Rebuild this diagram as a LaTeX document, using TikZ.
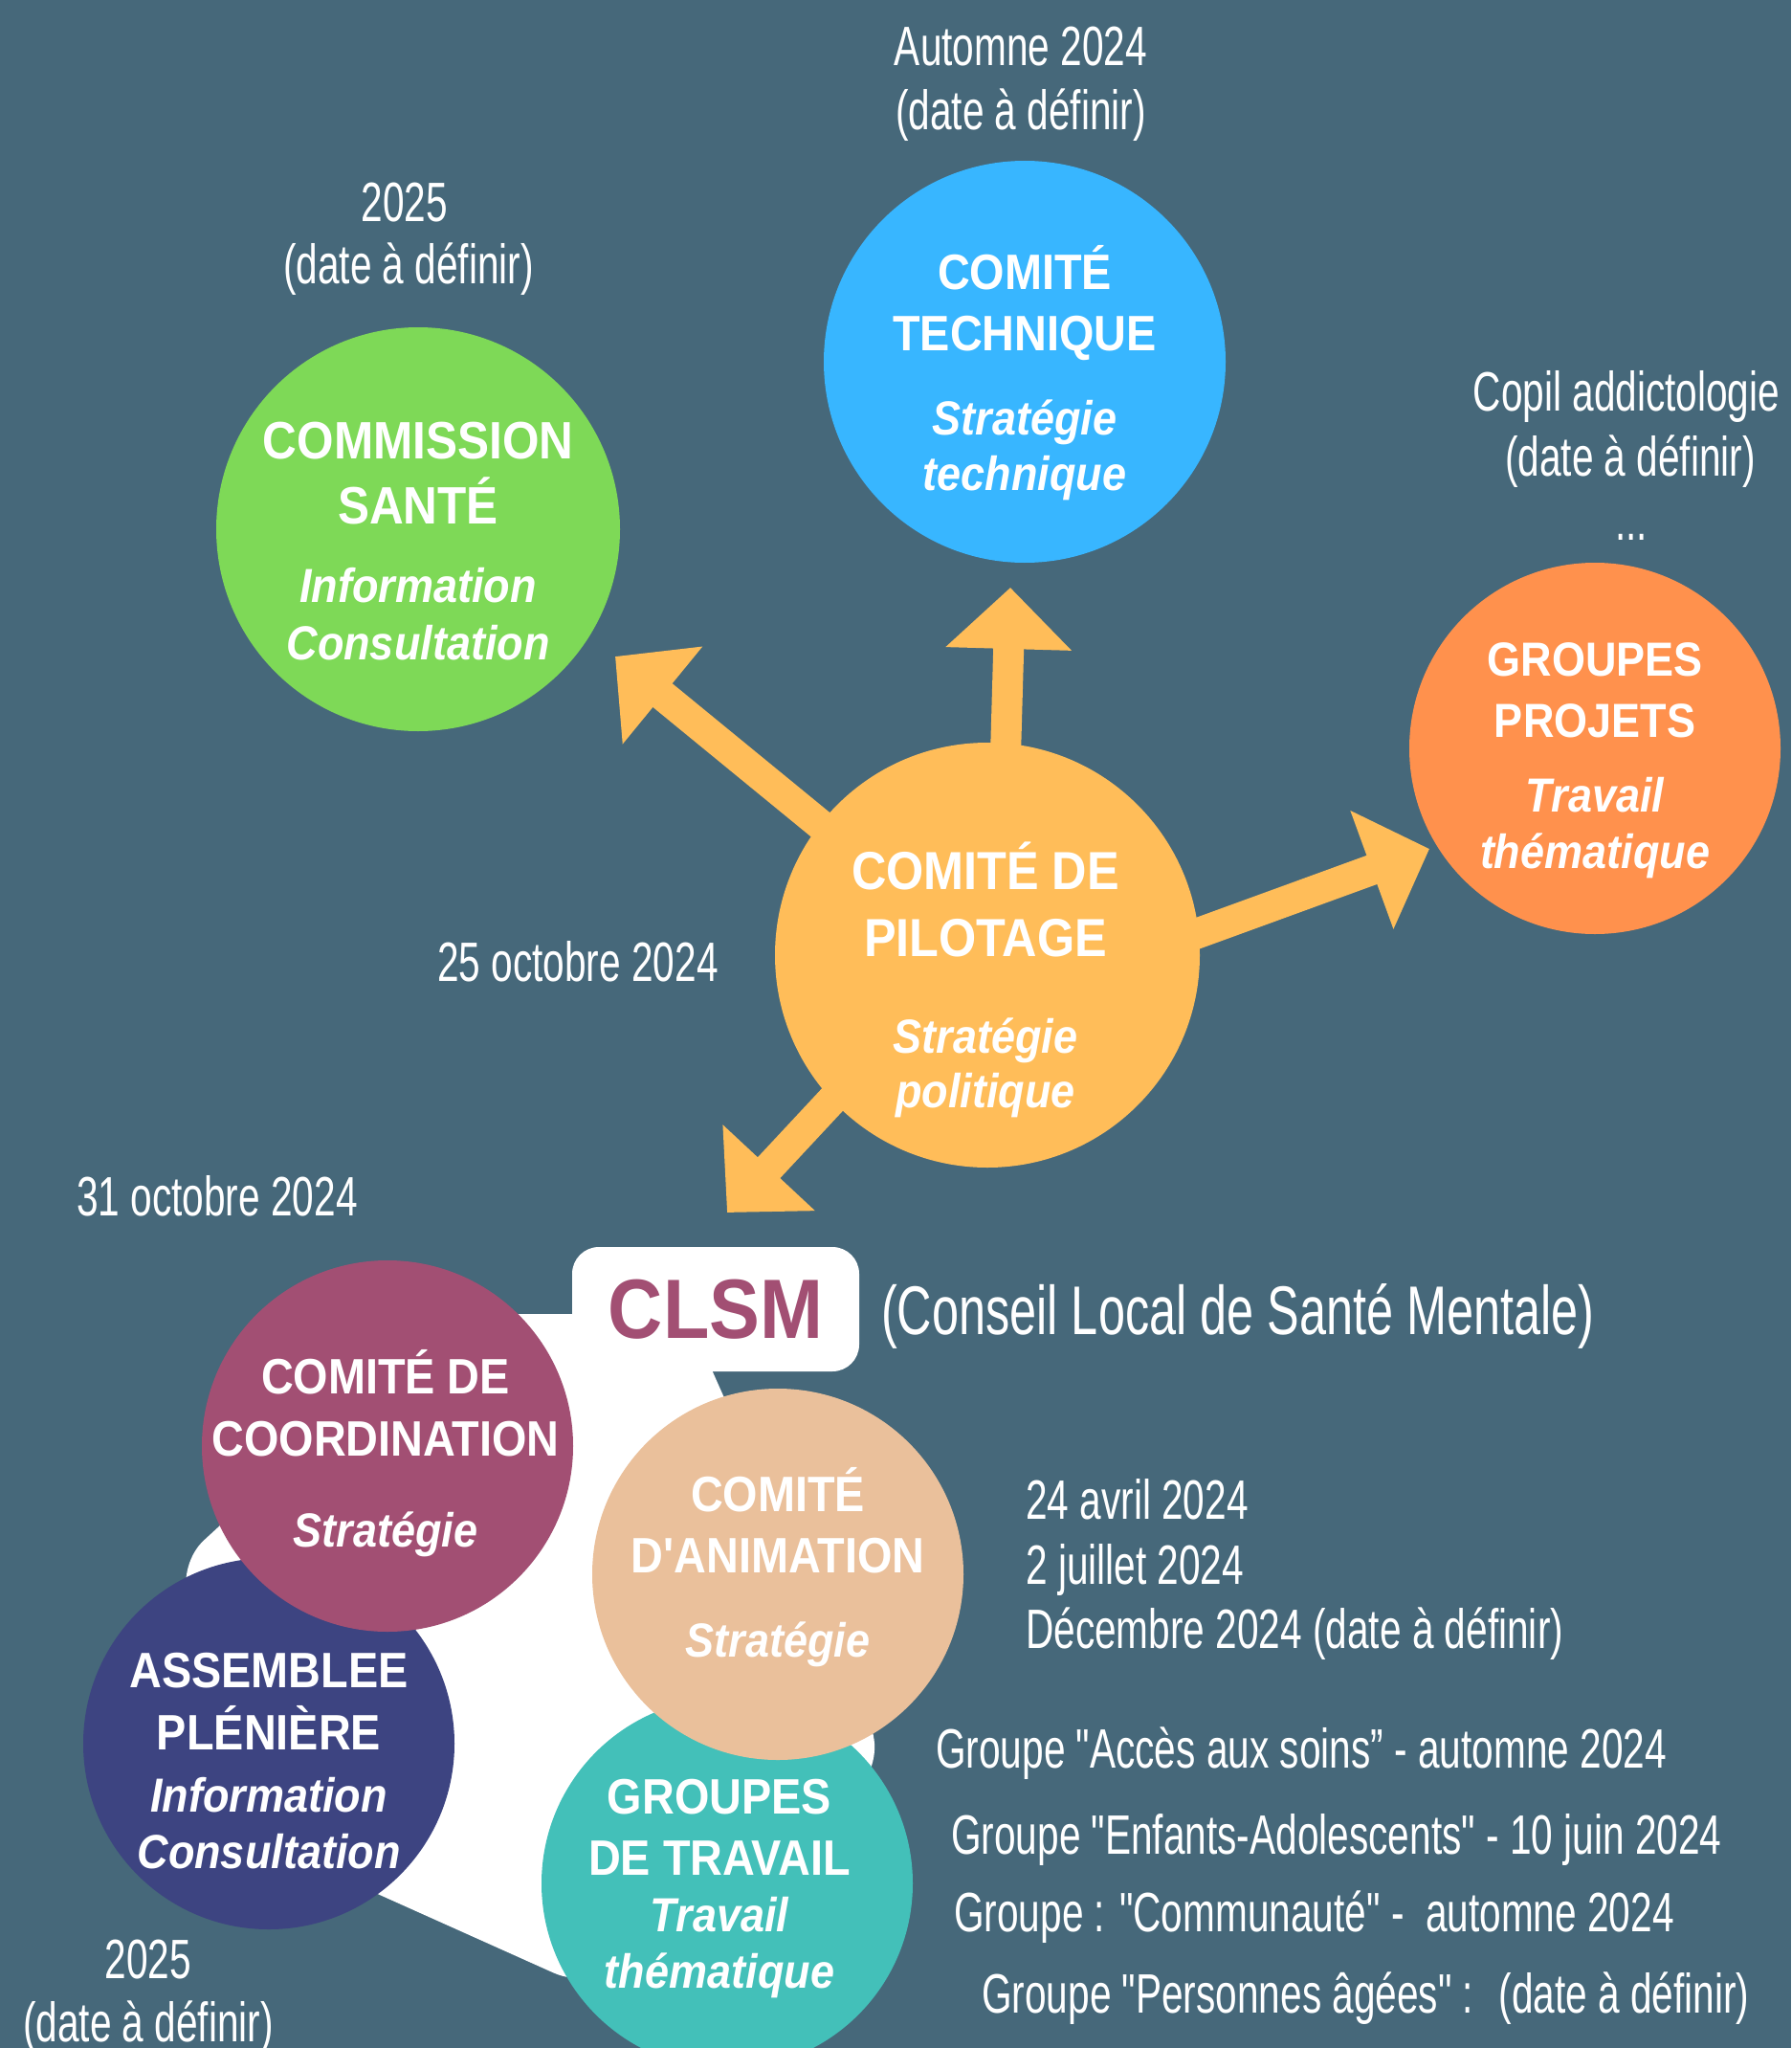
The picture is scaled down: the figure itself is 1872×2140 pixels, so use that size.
\documentclass[tikz,border=0pt]{standalone}
\usepackage{fontspec}
\newfontfamily\circfont{Liberation Sans}[FakeStretch=0.9, Ligatures=TeXOff]
\newfontfamily\datefont{Liberation Sans}[FakeStretch=0.70, Ligatures=TeXOff]
\usetikzlibrary{arrows.meta, backgrounds}

\definecolor{bgC}{HTML}{46687A}
\definecolor{santeC}{HTML}{7ED957}
\definecolor{techC}{HTML}{38B6FF}
\definecolor{projC}{HTML}{FF914D}
\definecolor{pilotC}{HTML}{FFBD59}
\definecolor{coordC}{HTML}{A24F73}
\definecolor{assembC}{HTML}{3D4481}
\definecolor{animC}{HTML}{EAC09B}
\definecolor{travC}{HTML}{43C0B9}

\tikzset{disc/.style={circle, inner sep=0pt, minimum size=388pt}}
\tikzset{capsTxt/.style={text=white, align=center, inner sep=0pt, font=\circfont\bfseries\fontsize{#1}{64}\selectfont}, capsTxt/.default=52}
\tikzset{dateTxt/.style={text=white, inner sep=0pt, font=\datefont\fontsize{58}{67}\selectfont}}
\tikzset{bigArrow/.style={draw=pilotC, line width=32pt, -{Triangle[length=64pt,width=128pt]}}}
\newcommand{\ital}[1]{{\itshape\fontsize{50}{60}\selectfont #1}}

\begin{document}
\begin{tikzpicture}[x=1pt, y=-1pt]
\useasboundingbox (0,0) rectangle (1872,2140);
\clip (0,0) rectangle (1872,2140);
\begin{scope}[on background layer]
\fill[bgC] (0,0) rectangle (1872,2140);
\end{scope}

% white area behind the CLSM
\fill[white, rounded corners=45pt] (470,1373) -- (718,1373) -- (928,1845) -- (620,2080) -- (330,1950) -- (180,1640) -- cycle;

\node[disc, fill=santeC, minimum size=422pt] (sante) at (437,553) {};
\node[disc, fill=techC, minimum size=420pt] (tech) at (1071,378) {};
\node[disc, fill=projC] (proj) at (1667,782) {};
\node[disc, fill=pilotC, minimum size=444pt] (pilot) at (1032,998) {};
\node[disc, fill=assembC] (assemb) at (281,1822) {};
\node[disc, fill=coordC] (coord) at (405,1511) {};
\node[disc, fill=travC] (trav) at (760,1968) {};
\node[disc, fill=animC] (anim) at (813,1645) {};

\node[capsTxt=55] (santeTxt) at (437,566) {COMMISSION\\[4pt]SANTÉ\\[18pt]\ital{Information}\\[-4pt]\ital{Consultation}};
\node[capsTxt] (techTxt) at (1071,390) {COMITÉ\\TECHNIQUE\\[24pt]\ital{Stratégie}\\[-6pt]\ital{technique}};
\node[capsTxt=50] (projTxt) at (1667,795) {GROUPES\\PROJETS\\[14pt]\ital{Travail}\\[-5pt]\ital{thématique}};
\node[capsTxt=56] (pilotTxt) at (1030,1024) {COMITÉ DE\\[6pt]PILOTAGE\\[37pt]\ital{Stratégie}\\[-7pt]\ital{politique}};
\node[capsTxt] (coordTxt) at (403,1519) {COMITÉ DE\\[1pt]COORDINATION\\[31pt]\ital{Stratégie}};
\node[capsTxt] (assembTxt) at (281,1840) {ASSEMBLEE\\[1pt]PLÉNIÈRE\\[1pt]\ital{Information}\\[-5pt]\ital{Consultation}};
\node[capsTxt] (animTxt) at (813,1638) {COMITÉ\\D'ANIMATION\\[24pt]\ital{Stratégie}};
\node[capsTxt] (travTxt) at (752,1974) {GROUPES\\DE TRAVAIL\\[-5pt]\ital{Travail}\\[-5pt]\ital{thématique}};

\node[fill=white, rounded corners=28pt, minimum width=300pt, minimum height=130pt, inner sep=0pt, text=coordC, font=\circfont\bfseries\fontsize{88}{90}\selectfont] (clsm) at (748,1368) {CLSM};

\coordinate (tipS) at (643,686);
\coordinate (tipT) at (1056,614);
\coordinate (tipP) at (1494,887);
\coordinate (tipC) at (760,1267);
\begin{scope}[on background layer]
\draw[bigArrow, shorten <=-20pt] (pilot.142) -- (tipS);
\draw[bigArrow, shorten <=-20pt] (pilot.85) -- (tipT);
\draw[bigArrow, shorten <=-20pt] (pilot.6) -- (tipP);
\draw[bigArrow, shorten <=-20pt] (pilot.223) -- (tipC);
\end{scope}

% dates
\node[dateTxt, anchor=base] (techDate) at (1067,69) {Automne 2024};
\node[dateTxt, anchor=base] (techDef) at (1067,136) {(date à définir)};
\node[dateTxt, anchor=base] (santeDate) at (423,232) {2025};
\node[dateTxt, anchor=base] (santeDef) at (427,297) {(date à définir)};
\node[dateTxt, anchor=base] (projDate) at (1700,429) {Copil addictologie};
\node[dateTxt, anchor=base] (projDef) at (1704,497) {(date à définir)};
\node[dateTxt, anchor=base] (projMore) at (1705,564) {...};
\node[dateTxt, anchor=base] (pilotDate) at (604,1025) {25 octobre 2024};
\node[dateTxt, anchor=base] (coordDate) at (227,1270) {31 octobre 2024};
\node[dateTxt, anchor=base west, font=\datefont\fontsize{72}{80}\selectfont] (clsmName) at (921,1394) {(Conseil Local de Santé Mentale)};
\node[dateTxt, anchor=base west] (animA) at (1072,1587) {24 avril 2024};
\node[dateTxt, anchor=base west] (animB) at (1072,1655) {2 juillet 2024};
\node[dateTxt, anchor=base west] (animC) at (1072,1722) {Décembre 2024 (date à définir)};
\node[dateTxt, anchor=base west] (travA) at (978,1847) {Groupe "Accès aux soins” - automne 2024};
\node[dateTxt, anchor=base west] (travB) at (994,1937) {Groupe "Enfants-Adolescents" - 10 juin 2024};
\node[dateTxt, anchor=base west] (travC) at (997,2018) {Groupe : "Communauté" - \ automne 2024};
\node[dateTxt, anchor=base west] (travD) at (1026,2103) {Groupe "Personnes âgées" : \ (date à définir)};
\node[dateTxt, anchor=base] (assembDate) at (155,2067) {2025};
\node[dateTxt, anchor=base] (assembDef) at (155,2133) {(date à définir)};
\end{tikzpicture}
\end{document}
